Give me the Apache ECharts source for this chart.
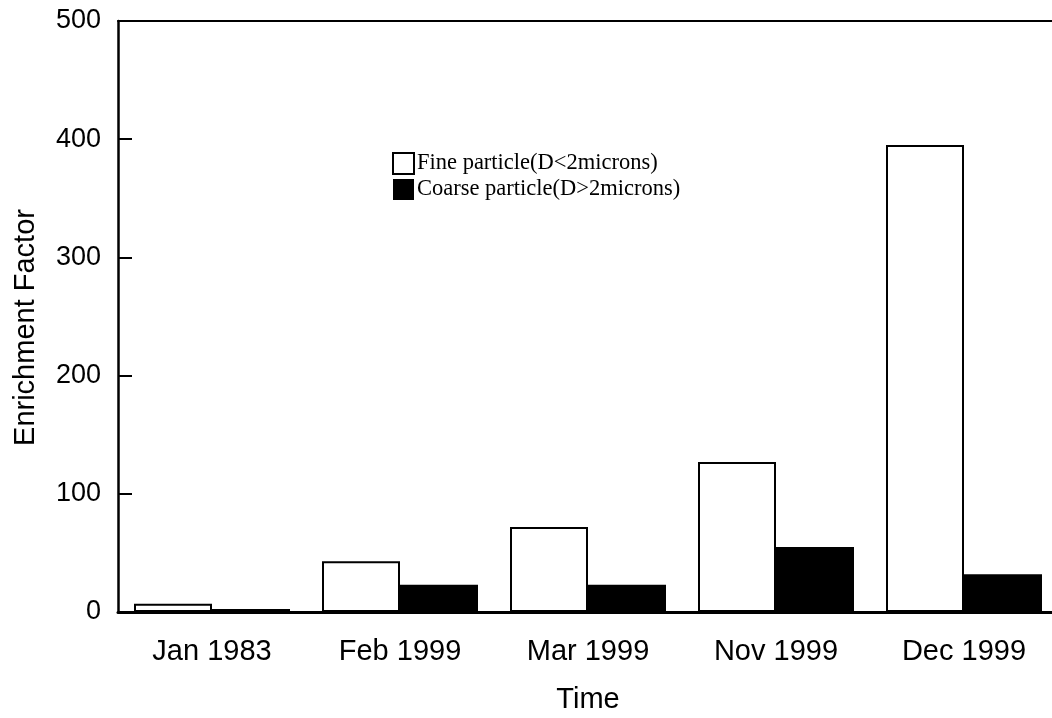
<!DOCTYPE html>
<html>
<head>
<meta charset="utf-8">
<script src="https://cdn.jsdelivr.net/npm/echarts@6/dist/echarts.min.js"></script>
<style>
  html, body { margin: 0; padding: 0; background: #fff; }
  #chart { width: 1052px; height: 718px; }
</style>
</head>
<body>
<div id="chart"></div>
<script>
// Sampling periods on the category axis
const categories = ['Jan 1983', 'Feb 1999', 'Mar 1999', 'Nov 1999', 'Dec 1999'];
// Enrichment factors per size fraction
const fineValues = [7, 43, 72, 127, 395];
const coarseValues = [2.5, 23, 23, 55, 32];
const seriesNames = ['Fine particle(D<2microns)', 'Coarse particle(D>2microns)'];
// Value axis range
const yMin = 0, yMax = 500, yStep = 100;

const sans = 'Liberation Sans, Arial, Helvetica, sans-serif';
const serif = 'Liberation Serif, Times New Roman, serif';

const chart = echarts.init(document.getElementById('chart'));
chart.setOption({
  backgroundColor: '#fff',
  animation: false,
  // plot area runs slightly past the right edge of the canvas
  grid: { left: 118, top: 21, width: 940, bottom: 106, outerBoundsMode: 'none', containLabel: false },
  legend: {
    orient: 'vertical',
    left: 392,
    top: 152,
    padding: 0,
    itemWidth: 21,
    itemHeight: 21,
    itemGap: 3,
    icon: 'rect',
    textStyle: { fontFamily: serif, fontSize: 22.5, color: '#000', padding: [0, 0, 0, -2] },
    data: seriesNames
  },
  xAxis: [
    {
      type: 'category',
      data: categories,
      position: 'bottom',
      axisLine: { lineStyle: { color: '#000', width: 3 } },
      axisTick: { show: false },
      axisLabel: { color: '#000', fontFamily: sans, fontSize: 29, margin: 25 },
      name: 'Time',
      nameLocation: 'middle',
      nameGap: 73,
      nameTextStyle: { color: '#000', fontFamily: sans, fontSize: 29 }
    },
    {
      type: 'category',
      data: categories,
      position: 'top',
      axisLine: { lineStyle: { color: '#000', width: 2 } },
      axisTick: { show: false },
      axisLabel: { show: false }
    }
  ],
  yAxis: {
    type: 'value',
    min: yMin,
    max: yMax,
    interval: yStep,
    axisLine: { show: true, lineStyle: { color: '#000', width: 2.5 } },
    axisTick: { show: true, inside: true, length: 14, lineStyle: { color: '#000', width: 2 } },
    axisLabel: { color: '#000', fontFamily: sans, fontSize: 27, margin: 17 },
    splitLine: { show: false },
    name: 'Enrichment Factor',
    nameLocation: 'middle',
    nameGap: 78,
    nameTextStyle: { color: '#000', fontFamily: sans, fontSize: 29, padding: [0, 22, 0, 0] }
  },
  series: [
    {
      name: seriesNames[0],
      type: 'bar',
      xAxisIndex: 0,
      data: fineValues,
      barWidth: 78,
      barGap: '0%',
      itemStyle: { color: '#fff', borderColor: '#000', borderWidth: 2 }
    },
    {
      name: seriesNames[1],
      type: 'bar',
      xAxisIndex: 0,
      data: coarseValues,
      barWidth: 78,
      barGap: '0%',
      itemStyle: { color: '#000', borderColor: '#000', borderWidth: 0 }
    }
  ]
});
</script>
</body>
</html>
